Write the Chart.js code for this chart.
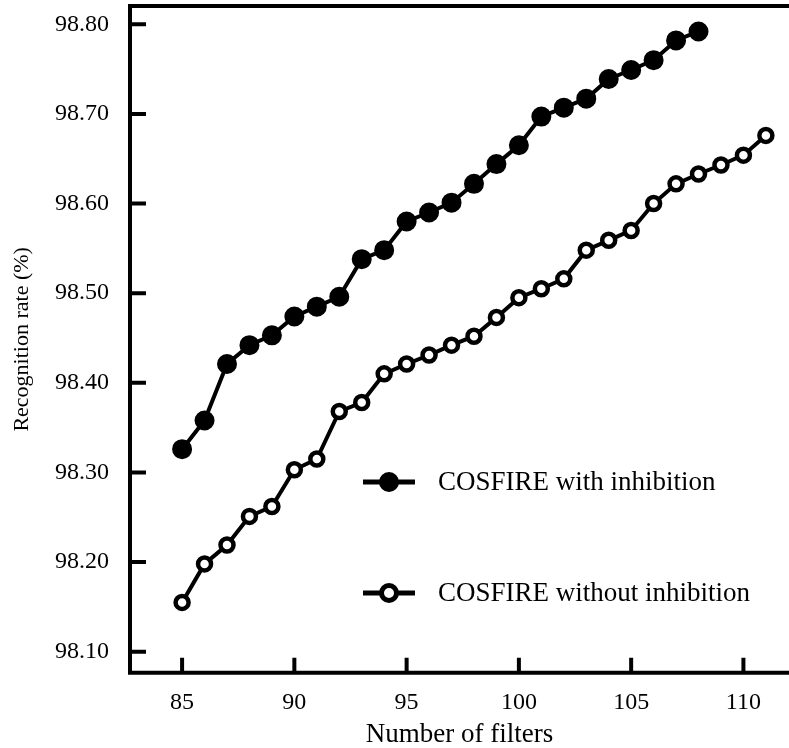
<!DOCTYPE html>
<html>
<head>
<meta charset="utf-8">
<script src="https://cdn.jsdelivr.net/npm/chart.js@4.4.1/dist/chart.umd.min.js"></script>
<style>
  html, body { margin: 0; padding: 0; background: #ffffff; }
  #wrap { width: 789px; height: 748px; }
</style>
</head>
<body>
<div id="wrap"><canvas id="c" width="789" height="748"></canvas></div>
<script>
// ---- data ----
const filtersWith = [85,86,87,88,89,90,91,92,93,94,95,96,97,98,99,100,101,102,103,104,105,106,107,108];
const rateWith = [98.326,98.358,98.421,98.442,98.453,98.474,98.485,98.496,98.538,98.548,98.580,98.590,98.601,98.622,98.644,98.665,98.697,98.707,98.717,98.739,98.749,98.760,98.782,98.792];
const filtersWithout = [85,86,87,88,89,90,91,92,93,94,95,96,97,98,99,100,101,102,103,104,105,106,107,108,109,110,111];
const rateWithout = [98.155,98.198,98.219,98.251,98.262,98.303,98.315,98.368,98.378,98.410,98.421,98.431,98.442,98.452,98.473,98.495,98.505,98.516,98.548,98.559,98.570,98.600,98.622,98.633,98.643,98.654,98.676];
const xTicks = [85,90,95,100,105,110];
const yTicks = [98.10,98.20,98.30,98.40,98.50,98.60,98.70,98.80];
const seriesNames = ['COSFIRE with inhibition','COSFIRE without inhibition'];
const xTitle = 'Number of filters';
const yTitle = 'Recognition rate (%)';

const FONT = '"Liberation Serif", "Times New Roman", serif';

const toPts = (xs, ys) => xs.map((x, i) => ({x: x, y: ys[i]}));

// inner tick marks, frame and legend drawn with the chart's scales
const framePlugin = {
  id: 'frame',
  afterDraw(chart) {
    const ctx = chart.ctx;
    const a = chart.chartArea;
    const xs = chart.scales.x, ys = chart.scales.y;
    ctx.save();
    ctx.strokeStyle = '#000';
    ctx.lineWidth = 4;
    ctx.lineCap = 'butt';
    ctx.beginPath();
    ctx.moveTo(a.left, a.top - 2); ctx.lineTo(a.left, a.bottom + 2);
    ctx.moveTo(a.left - 2, a.bottom); ctx.lineTo(a.right, a.bottom);
    ctx.moveTo(a.left - 2, a.top); ctx.lineTo(a.right, a.top);
    ctx.stroke();
    ctx.beginPath();
    xTicks.forEach(v => {
      const px = xs.getPixelForValue(v);
      ctx.moveTo(px, a.bottom); ctx.lineTo(px, a.bottom - 15);
    });
    yTicks.forEach(v => {
      const py = ys.getPixelForValue(v);
      ctx.moveTo(a.left, py); ctx.lineTo(a.left + 16, py);
    });
    ctx.stroke();

    // legend
    const items = [
      {y: 482, ds: chart.data.datasets[0], r: 8.5, bw: 3},
      {y: 593, ds: chart.data.datasets[1], r: 7.5, bw: 5}
    ];
    items.forEach(it => {
      ctx.beginPath();
      ctx.lineWidth = 5;
      ctx.moveTo(363, it.y); ctx.lineTo(415, it.y);
      ctx.stroke();
      ctx.beginPath();
      ctx.arc(389, it.y, it.r, 0, Math.PI * 2);
      ctx.fillStyle = it.ds.pointBackgroundColor;
      ctx.fill();
      ctx.lineWidth = it.bw;
      ctx.stroke();
      ctx.fillStyle = '#000';
      ctx.font = '27px ' + FONT;
      ctx.textAlign = 'left';
      ctx.textBaseline = 'middle';
      ctx.fillText(it.ds.label, 438, it.y + 1);
    });
    ctx.restore();
  }
};

new Chart(document.getElementById('c'), {
  type: 'line',
  data: {
    datasets: [
      {
        label: seriesNames[0],
        data: toPts(filtersWith, rateWith),
        borderColor: '#000',
        borderWidth: 4,
        pointRadius: 8.5,
        pointBorderWidth: 3,
        pointBackgroundColor: '#000',
        pointBorderColor: '#000',
        tension: 0,
        clip: false
      },
      {
        label: seriesNames[1],
        data: toPts(filtersWithout, rateWithout),
        borderColor: '#000',
        borderWidth: 4,
        pointRadius: 6.5,
        pointBorderWidth: 4.5,
        pointBackgroundColor: '#fff',
        pointBorderColor: '#000',
        tension: 0,
        clip: false
      }
    ]
  },
  options: {
    responsive: false,
    animation: false,
    devicePixelRatio: 1,
    layout: { autoPadding: false, padding: { top: 6, right: 0, bottom: 0, left: 0 } },
    plugins: {
      legend: { display: false },
      tooltip: { enabled: false },
      title: { display: false }
    },
    scales: {
      x: {
        type: 'linear',
        min: 82.68,
        max: 112.03,
        grid: { display: false, drawTicks: false },
        border: { display: false },
        afterBuildTicks: s => { s.ticks = xTicks.map(v => ({value: v})); },
        afterFit: s => { s.height = 75.3; s.paddingLeft = 0; s.paddingRight = 0; },
        ticks: {
          color: '#000',
          padding: 16,
          font: { family: FONT, size: 24 },
          callback: v => String(v)
        },
        title: {
          display: true,
          text: xTitle,
          color: '#000',
          font: { family: FONT, size: 27, lineHeight: 0.95 },
          padding: { top: 0, bottom: 0 }
        }
      },
      y: {
        type: 'linear',
        min: 98.0766,
        max: 98.8204,
        grid: { display: false, drawTicks: false },
        border: { display: false },
        afterBuildTicks: s => { s.ticks = yTicks.map(v => ({value: v})); },
        afterFit: s => { s.width = 130; s.paddingTop = 0; s.paddingBottom = 0; },
        ticks: {
          color: '#000',
          padding: 21,
          font: { family: FONT, size: 24 },
          callback: v => Number(v).toFixed(2)
        },
        title: {
          display: true,
          text: yTitle,
          color: '#000',
          font: { family: FONT, size: 22 },
          padding: { top: 9, bottom: 0 }
        }
      }
    }
  },
  plugins: [framePlugin]
});
</script>
</body>
</html>
